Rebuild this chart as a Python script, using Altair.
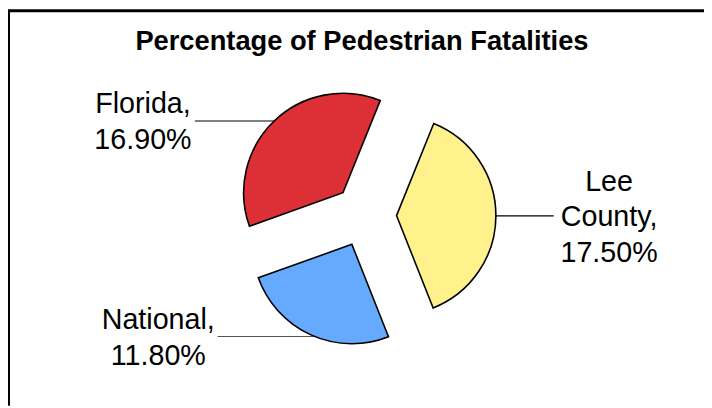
import altair as alt
import pandas as pd

# ---- data ----
categories = ["Lee County", "National", "Florida"]
values = [17.5, 11.8, 16.9]
labels = ["Lee\nCounty,\n17.50%", "National,\n11.80%", "Florida,\n16.90%"]
colors = ["#FFF28C", "#66AAFF", "#DD2F36"]
title_text = "Percentage of Pedestrian Fatalities"

# ---- layout (view pixels) ----
W, H = 704, 400
CX, CY = 361.0, 207.6
R = 100.5
EXPLODE = 32.0
START_DEG = 22.0
FONT = "Liberation Sans, Arial, Helvetica, sans-serif"

label_x = [608, 152, 136.5]
label_y = [182.7, 322.7, 104.3]
leader_y = [208, 330, 112]
leader_end = [552, 212, 189]
side = [1, -1, -1]
leader_color = ["#000000", "#555555", "#000000"]

df = pd.DataFrame({
    "idx": list(range(len(categories))),
    "category": categories,
    "value": values,
    "label": labels,
    "color": colors,
    "lx": label_x,
    "ly": label_y,
    "rly": leader_y,
    "rlx": leader_end,
    "side": side,
    "lcolor": leader_color,
})

base = alt.Chart(df).transform_joinaggregate(
    total="sum(value)"
).transform_window(
    cum="sum(value)", sort=[alt.SortField("idx")], frame=[None, 0]
).transform_calculate(
    t1=f"{START_DEG}*PI/180 + 2*PI*(datum.cum - datum.value)/datum.total",
    t2=f"{START_DEG}*PI/180 + 2*PI*datum.cum/datum.total",
).transform_calculate(
    mid="(datum.t1 + datum.t2)/2"
).transform_calculate(
    px=f"{CX} + {EXPLODE}*sin(datum.mid)",
    py=f"{CY} - {EXPLODE}*cos(datum.mid)",
).transform_calculate(
    arcx=f"datum.px + datum.side*sqrt({R}*{R} - (datum.rly - datum.py)*(datum.rly - datum.py))"
)

arcs = base.mark_arc(radius=R, stroke="black", strokeWidth=1.6).encode(
    x=alt.X("px:Q", scale=None, axis=None),
    y=alt.Y("py:Q", scale=None, axis=None),
    theta=alt.Theta("t1:Q", scale=None, stack=None),
    theta2=alt.Theta2("t2:Q"),
    fill=alt.Color("color:N", scale=None, legend=None),
)

leaders = base.mark_rule(strokeWidth=1.2).encode(
    x=alt.X("rlx:Q", scale=None, axis=None),
    x2=alt.X2("arcx:Q"),
    y=alt.Y("rly:Q", scale=None, axis=None),
    color=alt.Color("lcolor:N", scale=None, legend=None),
)

texts = base.mark_text(
    font=FONT, fontSize=29, lineBreak="\n", lineHeight=36,
    align="center", baseline="alphabetic", color="black",
).encode(
    x=alt.X("lx:Q", scale=None, axis=None),
    y=alt.Y("ly:Q", scale=None, axis=None),
    text="label:N",
)

title = alt.Chart(pd.DataFrame({"t": [title_text]})).mark_text(
    font=FONT, fontSize=27.6, fontWeight="bold", align="center",
    baseline="alphabetic", color="black",
).encode(x=alt.value(358), y=alt.value(40.3), text="t:N")

frame_df = pd.DataFrame({"a": [0]})
frame_left = alt.Chart(frame_df).mark_rule(color="black", strokeWidth=3).encode(
    x=alt.value(0.5), y=alt.value(0), y2=alt.value(H)
)
frame_top = alt.Chart(frame_df).mark_rule(color="black", strokeWidth=3).encode(
    y=alt.value(0.5), x=alt.value(0), x2=alt.value(W)
)

chart = alt.layer(leaders, arcs, texts, title, frame_left, frame_top).properties(
    width=W, height=H, autosize=alt.AutoSizeParams(type="none"), padding=0,
    background="white",
).configure_view(stroke=None)

chart.save("out.html", embed_options={"renderer": "svg", "actions": False})
